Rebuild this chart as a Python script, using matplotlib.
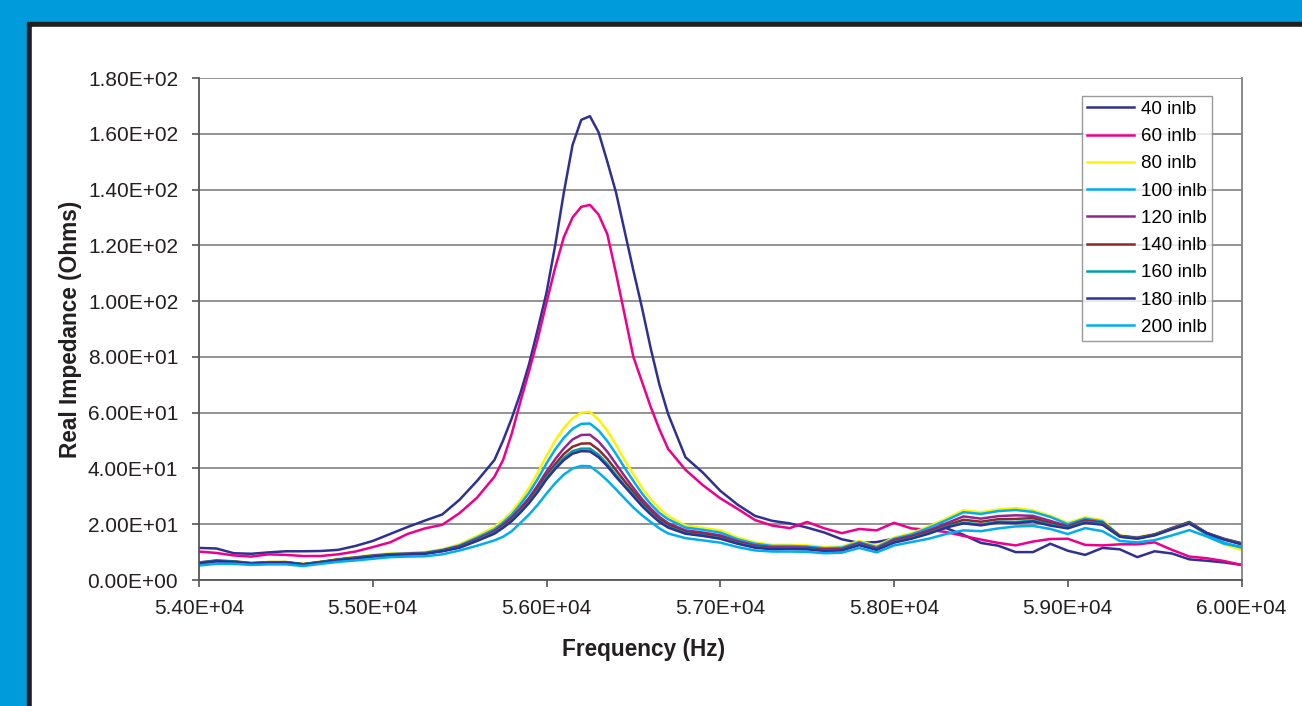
import matplotlib
matplotlib.use("Agg")
import matplotlib.pyplot as plt
from matplotlib.patches import Rectangle
from matplotlib.ticker import FuncFormatter, MultipleLocator

plt.rcParams['font.family'] = ['Liberation Sans', 'DejaVu Sans']

# frequency grid (Hz) - finer around the resonance
freq = [54000, 54100, 54200, 54300, 54400, 54500, 54600, 54700, 54800, 54900,
        55000, 55100, 55200, 55300, 55400, 55500, 55600, 55700,
        55750, 55800, 55850, 55900, 55950, 56000, 56050, 56100, 56150, 56200,
        56250, 56300, 56350, 56400, 56450, 56500, 56550, 56600, 56650, 56700,
        56800, 56900, 57000, 57100, 57200, 57300, 57400, 57500, 57600, 57700,
        57800, 57900, 58000, 58100, 58200, 58300, 58400, 58500, 58600, 58700,
        58800, 58900, 59000, 59100, 59200, 59300, 59400, 59500, 59600, 59700,
        59800, 59900, 60000]

# real impedance (Ohms)
z40 = [11.5, 11.3, 9.6, 9.4, 9.9, 10.3, 10.3, 10.4, 10.8, 12.2, 14.0, 16.5, 19.0, 21.3, 23.5, 28.8, 35.5, 43.0,
       50.0, 58.0, 67.0, 77.5, 90.0, 103.0, 120.0, 139.0, 156.0, 165.0, 166.3, 160.5, 150.0, 139.0, 125.0, 111.0, 97.5, 83.0, 70.0, 59.5,
       44.0, 38.5, 32.0, 27.0, 23.0, 21.2, 20.3, 18.8, 17.0, 14.6, 13.3, 13.6, 14.8, 16.4, 17.8, 18.6, 16.2, 13.3, 12.3, 10.0,
       10.0, 13.0, 10.5, 9.0, 11.5, 11.0, 8.2, 10.3, 9.5, 7.4, 6.9, 6.3, 5.4]
z60 = [10.2, 9.7, 8.8, 8.4, 9.2, 9.0, 8.6, 8.6, 9.2, 10.2, 11.8, 13.5, 16.5, 18.5, 19.8, 24.0, 29.5, 37.0,
       43.0, 52.5, 64.0, 75.0, 86.5, 99.5, 112.0, 123.0, 130.0, 133.8, 134.5, 131.0, 124.0, 110.0, 95.0, 80.0, 71.0, 62.0, 54.0, 47.0,
       39.5, 34.0, 29.3, 25.5, 21.5, 19.5, 18.6, 20.8, 18.5, 16.8, 18.3, 17.8, 20.5, 18.5, 18.0, 17.2, 15.8, 14.5, 13.3, 12.4,
       13.8, 14.7, 14.8, 12.6, 12.4, 12.8, 12.8, 13.5, 10.8, 8.4, 7.8, 6.8, 5.4]
z80 = [6.0, 6.8, 6.6, 6.0, 6.5, 6.5, 5.8, 6.6, 7.6, 8.3, 9.0, 9.5, 9.7, 10.0, 11.0, 12.8, 15.8, 19.0,
       21.5, 24.5, 28.5, 33.0, 38.5, 44.5, 50.0, 54.5, 58.0, 60.0, 60.3, 57.5, 53.5, 48.5, 43.0, 38.0, 33.0, 29.0, 25.5, 23.0,
       19.5, 18.7, 17.8, 15.2, 13.5, 12.6, 12.6, 12.4, 11.8, 12.0, 14.0, 12.2, 15.2, 16.8, 19.2, 22.0, 25.0, 24.3, 25.3, 25.8,
       25.0, 23.0, 20.5, 22.5, 21.5, 16.0, 15.4, 16.5, 18.5, 20.5, 16.0, 12.8, 10.8]
z100 = [5.8, 6.6, 6.4, 5.8, 6.3, 6.3, 5.6, 6.4, 7.4, 8.1, 8.8, 9.3, 9.5, 9.8, 10.8, 12.4, 15.2, 18.2,
        20.6, 23.4, 27.2, 31.3, 36.3, 41.8, 46.8, 51.0, 54.2, 56.0, 56.1, 53.6, 49.8, 45.2, 40.2, 35.5, 31.0, 27.2, 24.0, 21.8,
        18.8, 18.0, 17.0, 14.6, 13.0, 12.2, 12.2, 12.0, 11.4, 11.6, 13.6, 11.8, 14.8, 16.3, 18.7, 21.4, 24.3, 23.7, 24.7, 25.1,
        24.4, 22.6, 20.0, 22.0, 21.0, 15.8, 15.2, 16.3, 18.4, 20.4, 16.2, 13.4, 11.6]
z120 = [6.0, 6.7, 6.5, 5.9, 6.3, 6.3, 5.6, 6.4, 7.3, 8.0, 8.7, 9.2, 9.4, 9.6, 10.6, 12.1, 14.7, 17.6,
        19.9, 22.5, 25.8, 29.5, 34.0, 38.9, 43.3, 47.2, 50.4, 52.0, 52.1, 49.6, 46.0, 41.6, 37.2, 33.0, 29.0, 25.6, 22.6, 20.4,
        17.8, 17.0, 16.0, 13.9, 12.4, 11.7, 11.7, 11.6, 11.0, 11.2, 13.2, 11.4, 14.4, 15.8, 17.8, 20.3, 22.8, 22.0, 22.9, 23.2,
        23.0, 21.2, 19.3, 21.5, 20.6, 15.8, 15.1, 16.3, 18.6, 20.7, 16.8, 14.6, 13.1]
z140 = [6.3, 7.0, 6.7, 6.1, 6.4, 6.4, 5.7, 6.5, 7.3, 7.9, 8.6, 9.1, 9.3, 9.5, 10.5, 11.9, 14.4, 17.2,
        19.4, 21.9, 25.0, 28.6, 32.8, 37.5, 41.6, 45.2, 47.8, 48.9, 49.0, 46.7, 43.4, 39.4, 35.4, 31.6, 27.8, 24.6, 21.8, 19.7,
        17.2, 16.4, 15.4, 13.5, 12.0, 11.4, 11.4, 11.3, 10.7, 10.9, 12.9, 11.1, 14.0, 15.3, 17.2, 19.5, 21.6, 20.9, 21.8, 21.9,
        22.2, 20.4, 19.0, 21.2, 20.4, 15.8, 15.0, 16.3, 18.6, 20.8, 16.9, 14.8, 13.2]
z160 = [6.2, 6.9, 6.6, 6.0, 6.3, 6.4, 5.6, 6.4, 7.2, 7.8, 8.5, 9.0, 9.2, 9.5, 10.4, 11.7, 14.2, 16.9,
        19.0, 21.4, 24.6, 28.0, 32.1, 36.7, 40.5, 43.8, 46.2, 47.1, 47.1, 44.9, 41.6, 37.7, 34.0, 30.5, 26.9, 23.9, 21.1, 19.1,
        16.8, 16.0, 15.0, 13.2, 11.8, 11.1, 11.2, 11.1, 10.5, 10.7, 12.7, 10.9, 13.6, 15.0, 16.8, 19.1, 20.6, 19.9, 20.9, 20.8,
        21.3, 19.8, 18.7, 20.8, 20.1, 15.6, 14.9, 16.1, 18.4, 20.4, 16.8, 14.6, 12.9]
z180 = [6.0, 6.8, 6.5, 5.9, 6.2, 6.3, 5.5, 6.3, 7.1, 7.7, 8.4, 8.9, 9.2, 9.4, 10.3, 11.6, 14.0, 16.6,
        18.7, 21.1, 24.2, 27.6, 31.6, 36.1, 39.8, 43.0, 45.3, 46.2, 46.1, 44.0, 40.8, 37.0, 33.5, 30.0, 26.5, 23.5, 20.8, 18.8,
        16.6, 15.8, 14.8, 13.0, 11.6, 11.0, 11.1, 11.0, 10.4, 10.6, 12.5, 10.8, 13.4, 14.8, 16.6, 18.8, 20.3, 19.6, 20.6, 20.4,
        21.0, 19.5, 18.5, 20.5, 19.8, 15.5, 14.8, 16.0, 18.2, 20.2, 16.8, 14.5, 12.8]
z200 = [5.2, 5.8, 5.8, 5.4, 5.6, 5.6, 5.0, 5.8, 6.5, 7.0, 7.6, 8.2, 8.4, 8.5, 9.2, 10.6, 12.3, 14.2,
        15.5, 17.5, 20.5, 23.5, 27.0, 31.0, 34.7, 37.8, 40.0, 40.9, 40.8, 38.5, 35.7, 32.5, 29.2, 26.0, 23.2, 20.8, 18.5, 16.7,
        15.0, 14.2, 13.4, 11.8, 10.6, 10.2, 10.2, 10.1, 9.6, 9.8, 11.5, 9.9, 12.4, 13.6, 14.8, 16.5, 17.8, 17.5, 18.5, 19.2,
        19.4, 18.3, 16.5, 18.6, 17.5, 14.0, 13.5, 14.3, 16.0, 17.9, 15.6, 13.0, 11.9]

labels = ['40 inlb', '60 inlb', '80 inlb', '100 inlb', '120 inlb',
          '140 inlb', '160 inlb', '180 inlb', '200 inlb']
series = [z40, z60, z80, z100, z120, z140, z160, z180, z200]
colors = ['#2e3192', '#ec008c', '#fff200', '#00aeef', '#92278f',
          '#8b2a2a', '#00a0a0', '#2e3192', '#00aeef']

fig = plt.figure(figsize=(13.02, 7.06), dpi=100)
fig.patch.set_facecolor('#009bdb')
# dark frame + white panel behind the axes
fig.patches.append(Rectangle((27 / 1302, 0), 1 - 27 / 1302, 1 - 22 / 706,
                             transform=fig.transFigure, color='#231f20', zorder=-2))
fig.patches.append(Rectangle((32 / 1302, 0), 1 - 32 / 1302, 1 - 27 / 706,
                             transform=fig.transFigure, color='white', zorder=-1))

ax = fig.add_axes([199 / 1302, 126 / 706, 1042.5 / 1302, 502 / 706])
ax.set_facecolor('white')

for y, lab, c in zip(series, labels, colors):
    ax.plot(freq, y, color=c, lw=1.8, label=lab)

ax.set_xlim(54000, 60000)
ax.set_ylim(0, 180)
ax.xaxis.set_major_locator(MultipleLocator(1000))
ax.yaxis.set_major_locator(MultipleLocator(20))
ax.xaxis.set_major_formatter(FuncFormatter(lambda v, p: f"{v:.2E}"))
ax.yaxis.set_major_formatter(FuncFormatter(lambda v, p: f"{v:.2E}"))
ax.yaxis.grid(True, color='#808080', lw=1.2)
ax.set_axisbelow(True)

ax.spines['top'].set_visible(False)
for s in ['left', 'bottom', 'right']:
    ax.spines[s].set_color('#555555')
    ax.spines[s].set_linewidth(1.3)
ax.spines['right'].set_color('#808080')

ax.tick_params(axis='both', direction='out', length=5, width=1.2, color='#555555',
               labelsize=15, labelcolor='#231f20')
ax.tick_params(axis='y', pad=10)
ax.tick_params(axis='x', pad=9)

ax.set_xlabel('Frequency (Hz)', fontsize=16.3, fontweight='bold', color='#231f20')
ax.set_ylabel('Real Impedance (Ohms)', fontsize=16.3, fontweight='bold', color='#231f20')
ax.xaxis.set_label_coords(0.426, -0.1165)
ax.yaxis.set_label_coords(-0.112, 0.5)

leg = ax.legend(loc='upper left', bbox_to_anchor=(0.847, 0.964), borderaxespad=0,
                fontsize=13.5, frameon=True, fancybox=False, handlelength=2.5,
                handletextpad=0.4, labelspacing=0.54, borderpad=0.25)
leg.get_frame().set_edgecolor('#808080')
leg.get_frame().set_linewidth(1.0)

fig.savefig('out.png', dpi=100, facecolor=fig.get_facecolor())
